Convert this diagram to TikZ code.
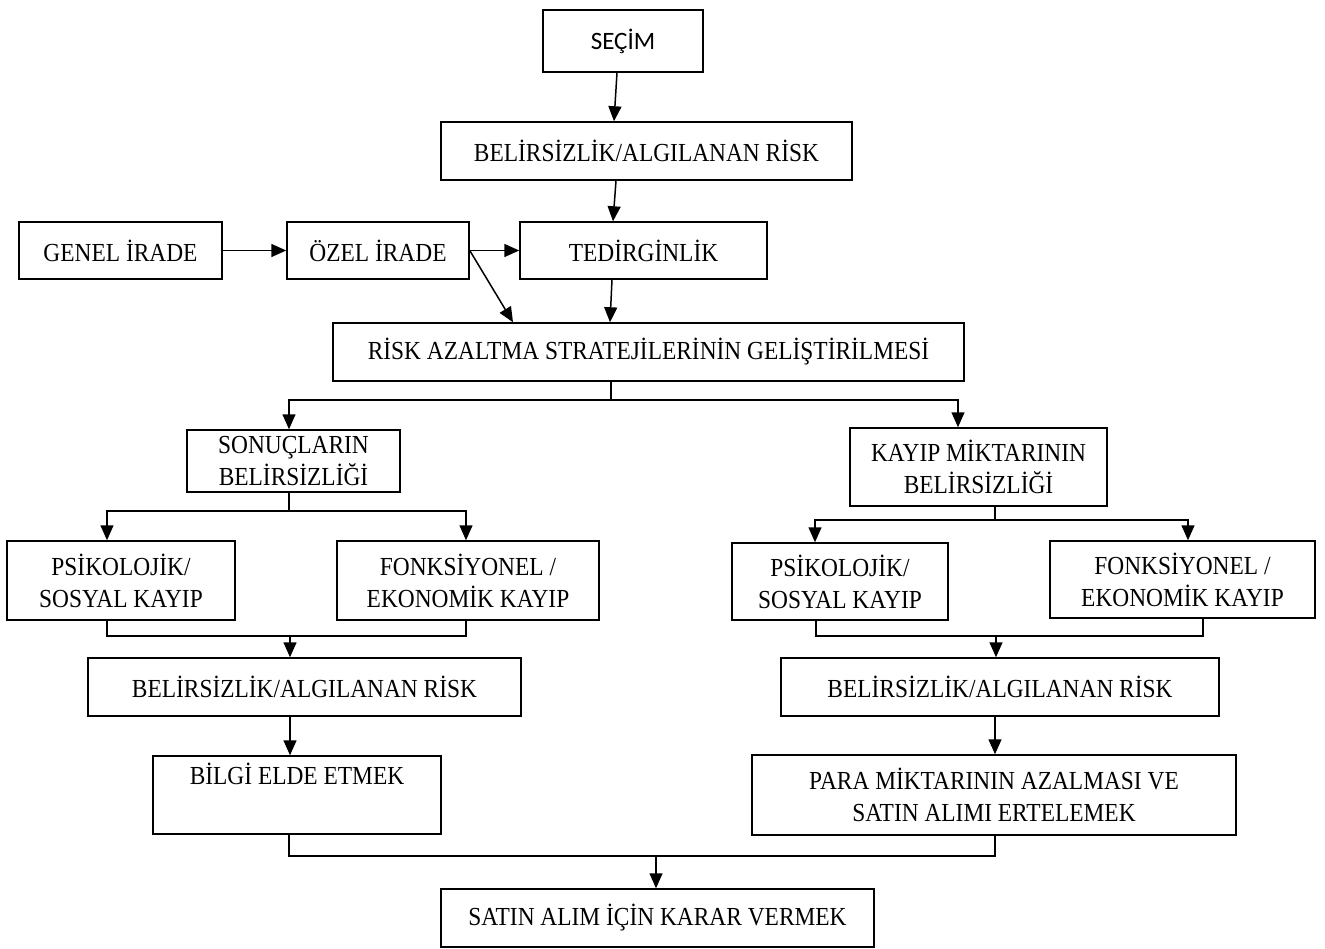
\documentclass[tikz,border=0pt]{standalone}
\usepackage{fontspec}
\setmainfont{Liberation Serif}[FakeStretch=0.9]
\newfontfamily\calib{Carlito}
\usetikzlibrary{arrows.meta}
\tikzset{
  box/.style={draw, line width=1.5pt, align=center, inner sep=0pt, font=\fontsize{26}{32}\selectfont},
  conn/.style={line width=1.5pt},
  arr/.style={line width=1.5pt, -{Triangle[length=15pt,width=13pt]}}
}
\begin{document}
\begin{tikzpicture}[x=1pt,y=-1pt]
\useasboundingbox (0,0) rectangle (1325,949);
\node[box, minimum width=160pt, minimum height=62pt, font=\calib\fontsize{25}{30}\selectfont] (secim) at (623,41) {SEÇİM};
\node[box, minimum width=411pt, minimum height=58pt] (b1) at (646.5,151) {BELİRSİZLİK/ALGILANAN RİSK};
\node[box, minimum width=203pt, minimum height=57pt] (genel) at (120.5,250.5) {GENEL İRADE};
\node[box, minimum width=182pt, minimum height=57pt] (ozel) at (378,250.5) {ÖZEL İRADE};
\node[box, minimum width=247pt, minimum height=57pt] (ted) at (643.5,250.5) {TEDİRGİNLİK};
\node[box, minimum width=631pt, minimum height=58pt] (risk) at (648.5,352) {RİSK AZALTMA STRATEJİLERİNİN GELİŞTİRİLMESİ};
\node[box, minimum width=213pt, minimum height=62pt] (son) at (293.5,461) {SONUÇLARIN\\BELİRSİZLİĞİ};
\node[box, minimum width=257pt, minimum height=78pt] (kayip) at (978.5,467) {KAYIP MİKTARININ\\BELİRSİZLİĞİ};
\node[box, minimum width=228pt, minimum height=79pt] (psL) at (121,580.5) {PSİKOLOJİK/\\SOSYAL KAYIP};
\node[box, minimum width=262pt, minimum height=79pt] (fkL) at (468,580.5) {FONKSİYONEL /\\EKONOMİK KAYIP};
\node[box, minimum width=216pt, minimum height=77pt] (psR) at (840,581.5) {PSİKOLOJİK/\\SOSYAL KAYIP};
\node[box, minimum width=265pt, minimum height=77pt] (fkR) at (1182.5,579.5) {FONKSİYONEL /\\EKONOMİK KAYIP};
\node[box, minimum width=433pt, minimum height=58pt] (b2) at (304.5,687) {BELİRSİZLİK/ALGILANAN RİSK};
\node[box, minimum width=438pt, minimum height=58pt] (b3) at (1000,687) {BELİRSİZLİK/ALGILANAN RİSK};
\node[box, minimum width=288pt, minimum height=78pt] (bilgi) at (297,795) {BİLGİ ELDE ETMEK\\ \strut};
\node[box, minimum width=484pt, minimum height=80pt] (para) at (994,795) {PARA MİKTARININ AZALMASI VE\\SATIN ALIMI ERTELEMEK};
\node[box, minimum width=433pt, minimum height=58pt] (satin) at (657.5,918) {SATIN ALIM İÇİN KARAR VERMEK};
% junctions
\coordinate (jL) at (290,636);
\coordinate (jR) at (996,636);
\coordinate (jB) at (656,856);
% connectors
\draw[arr] ([xshift=-6pt]secim.south) -- ([xshift=-32.5pt]b1.north);
\draw[arr] ([xshift=-30.5pt]b1.south) -- ([xshift=-30.5pt]ted.north);
\draw[arr] (genel.east) -- (ozel.west);
\draw[arr] (ozel.east) -- (ted.west);
\draw[arr] (ozel.east) -- ([xshift=-135.5pt]risk.north);
\draw[arr] ([xshift=-31.5pt]ted.south) -- ([xshift=-38.5pt]risk.north);
\draw[arr] ([xshift=-37.5pt]risk.south) -- ++(0,18) -| ([xshift=-4.5pt]son.north);
\draw[arr] ([xshift=-37.5pt]risk.south) -- ++(0,18) -| ([xshift=-20.5pt]kayip.north);
\draw[arr] ([xshift=-4.5pt]son.south) -- ++(0,18) -| ([xshift=-14pt]psL.north);
\draw[arr] ([xshift=-4.5pt]son.south) -- ++(0,18) -| ([xshift=-2pt]fkL.north);
\draw[arr] ([xshift=16.5pt]kayip.south) -- ++(0,13) -| ([xshift=-25pt]psR.north);
\draw[arr] ([xshift=16.5pt]kayip.south) -- ++(0,13) -| ([xshift=5.5pt]fkR.north);
\draw[conn] ([xshift=-14pt]psL.south) |- (jL) -| ([xshift=-2pt]fkL.south);
\draw[arr] (jL) -- ([xshift=-14.5pt]b2.north);
\draw[conn] ([xshift=-24pt]psR.south) |- (jR) -| ([xshift=20.5pt]fkR.south);
\draw[arr] (jR) -- ([xshift=-4pt]b3.north);
\draw[arr] ([xshift=-14.5pt]b2.south) -- ([xshift=-7pt]bilgi.north);
\draw[arr] ([xshift=-5pt]b3.south) -- ([xshift=1pt]para.north);
\draw[conn] ([xshift=-8pt]bilgi.south) |- (jB) -| ([xshift=1pt]para.south);
\draw[arr] (jB) -- ([xshift=-1.5pt]satin.north);
\end{tikzpicture}
\end{document}
